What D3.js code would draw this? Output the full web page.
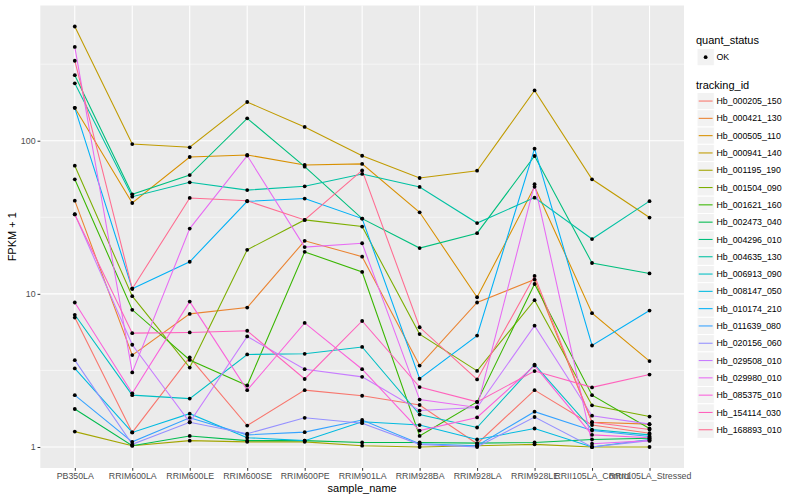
<!DOCTYPE html>
<html><head><meta charset="utf-8">
<script src="https://cdn.jsdelivr.net/npm/d3@7"></script>
<style>
body{margin:0;background:#fff;}
svg{display:block;font-family:"Liberation Sans",Arial,Helvetica,sans-serif;}
</style></head>
<body><svg id="c" width="800" height="500"></svg>
<script>
const samples = ["PB350LA","RRIM600LA","RRIM600LE","RRIM600SE","RRIM600PE","RRIM901LA","RRIM928BA","RRIM928LA","RRIM928LE","RRII105LA_Control","RRII105LA_Stressed"];
const trackingIds = ["Hb_000205_150","Hb_000421_130","Hb_000505_110","Hb_000941_140","Hb_001195_190","Hb_001504_090","Hb_001621_160","Hb_002473_040","Hb_004296_010","Hb_004635_130","Hb_006913_090","Hb_008147_050","Hb_010174_210","Hb_011639_080","Hb_020156_060","Hb_029508_010","Hb_029980_010","Hb_085375_010","Hb_154114_030","Hb_168893_010"];
const colors = ["#F8766D","#EA8331","#D89000","#C09B00","#A3A500","#7CAE00","#39B600","#00BB4E","#00BF7D","#00C1A3","#00BFC4","#00BAE0","#00B0F6","#35A2FF","#9590FF","#C77CFF","#E76BF3","#FA62DB","#FF62BC","#FF6C91"];
const yTicks = [1, 10, 100];
const quantStatus = ["OK"];

// FPKM + 1 per tracking id, one value per sample
const hb_000205_150 = [7.0, 1.245, 3.85, 1.38, 2.35, 2.16, 1.88, 1.05, 2.35, 1.39, 1.23];
const hb_000421_130 = [40.6, 3.98, 7.4, 8.14, 22.2, 17.5, 3.4, 8.78, 12.4, 1.45, 1.41];
const hb_000505_110 = [164, 39.2, 78.3, 80.7, 69.5, 70.6, 34.1, 9.5, 50, 7.48, 3.64];
const hb_000941_140 = [557, 95.1, 90.6, 179, 123, 79.8, 57.1, 63.7, 213, 56, 31.5];
const hb_001195_190 = [1.26, 1.02, 1.1, 1.08, 1.08, 1.02, 1.0, 1.02, 1.04, 1.0, 1.0];
const hb_001504_090 = [68.7, 9.66, 3.3, 19.4, 30.4, 27.5, 5.46, 3.14, 9.1, 1.87, 1.58];
const hb_001621_160 = [56, 7.87, 3.7, 2.52, 18.8, 13.9, 1.18, 1.97, 11.6, 2.18, 1.32];
const hb_002473_040 = [1.77, 1.02, 1.18, 1.1, 1.1, 1.07, 1.07, 1.06, 1.07, 1.12, 1.14];
const hb_004296_010 = [268, 44.7, 59.7, 140, 67.7, 31, 19.9, 24.9, 79.5, 15.9, 13.6];
const hb_004635_130 = [237, 43.1, 53.5, 47.6, 50.4, 60.7, 49.9, 29, 42.5, 22.8, 40.3];
const hb_006913_090 = [7.3, 2.18, 2.07, 4.02, 4.06, 4.5, 1.63, 1.34, 3.45, 1.3, 1.2];
const hb_008147_050 = [3.26, 1.245, 1.65, 1.15, 1.1, 1.46, 1.39, 1.12, 1.32, 1.0, 1.12];
const hb_010174_210 = [164, 10.8, 16.2, 40.2, 41.9, 31, 2.79, 5.34, 88.7, 4.6, 7.78];
const hb_011639_080 = [2.18, 1.08, 1.55, 1.2, 1.25, 1.5, 1.05, 1.02, 1.7, 1.28, 1.17];
const hb_020156_060 = [3.69, 1.04, 1.45, 1.22, 1.55, 1.43, 1.04, 1.0, 1.57, 1.0, 1.1];
const hb_029508_010 = [33.1, 4.65, 1.45, 5.27, 3.22, 2.87, 1.73, 1.81, 6.2, 1.6, 1.41];
const hb_029980_010 = [410, 3.07, 26.7, 80, 20.2, 21.4, 2.04, 1.81, 52, 1.05, 1.1];
const hb_085375_010 = [8.78, 2.24, 8.9, 2.35, 6.46, 3.22, 1.28, 1.56, 3.4, 1.2, 1.15];
const hb_154114_030 = [33, 5.54, 5.6, 5.74, 2.78, 6.65, 2.46, 1.97, 3.13, 2.45, 2.97];
const hb_168893_010 = [333, 10.8, 42.3, 40.5, 30.4, 64, 6.05, 2.76, 13.1, 1.45, 1.3];

const seriesValues = [hb_000205_150,hb_000421_130,hb_000505_110,hb_000941_140,hb_001195_190,hb_001504_090,hb_001621_160,hb_002473_040,hb_004296_010,hb_004635_130,hb_006913_090,hb_008147_050,hb_010174_210,hb_011639_080,hb_020156_060,hb_029508_010,hb_029980_010,hb_085375_010,hb_154114_030,hb_168893_010];

const series = trackingIds.map((id, i) => ({id, color: colors[i], values: samples.map((s, j) => ({sample: s, v: seriesValues[i][j]}))}));

const svg = d3.select("#c");
const P = {l: 40.3, r: 684, t: 5.5, b: 468};

const x = d3.scalePoint().domain(samples).range([P.l, P.r]).padding(0.6);
const allV = seriesValues.flat();
const lo = Math.log10(d3.min(allV)), hi = Math.log10(d3.max(allV));
const ex = (hi - lo) * 0.05;
const y = d3.scaleLog().domain([Math.pow(10, lo - ex), Math.pow(10, hi + ex)]).range([P.b, P.t]);

// panel
svg.append("rect").attr("x", P.l).attr("y", P.t).attr("width", P.r - P.l).attr("height", P.b - P.t).attr("fill", "#EBEBEB");
const minor = [Math.pow(10, 0.5), Math.pow(10, 1.5), Math.pow(10, 2.5)];
svg.append("g").selectAll("line").data(minor).join("line")
  .attr("x1", P.l).attr("x2", P.r).attr("y1", d => y(d)).attr("y2", d => y(d))
  .attr("stroke", "#fff").attr("stroke-width", 0.55);
svg.append("g").selectAll("line").data(yTicks).join("line")
  .attr("x1", P.l).attr("x2", P.r).attr("y1", d => y(d)).attr("y2", d => y(d))
  .attr("stroke", "#fff").attr("stroke-width", 1.1);
svg.append("g").selectAll("line").data(samples).join("line")
  .attr("y1", P.t).attr("y2", P.b).attr("x1", d => x(d)).attr("x2", d => x(d))
  .attr("stroke", "#fff").attr("stroke-width", 1.1);

// axes
const yAxis = d3.axisLeft(y).tickValues(yTicks).tickFormat(d3.format("d")).tickSize(2.75).tickPadding(2);
const gy = svg.append("g").attr("transform", `translate(${P.l},0)`).call(yAxis);
gy.select(".domain").remove();
gy.selectAll("line").attr("stroke", "#333333");
gy.selectAll("text").attr("fill", "#4D4D4D").style("font-size", "8.8px");

const xAxis = d3.axisBottom(x).tickSize(2.75).tickPadding(2.2);
const gx = svg.append("g").attr("transform", `translate(0,${P.b})`).call(xAxis);
gx.select(".domain").remove();
gx.selectAll("line").attr("stroke", "#333333");
gx.selectAll("text").attr("fill", "#4D4D4D").style("font-size", "8.8px");

// lines
const line = d3.line().x(d => x(d.sample)).y(d => y(d.v));
svg.append("g").selectAll("path").data(series).join("path")
  .attr("d", d => line(d.values)).attr("fill", "none")
  .attr("stroke", d => d.color).attr("stroke-width", 1.07);

// points
svg.append("g").selectAll("circle").data(series.flatMap(s => s.values)).join("circle")
  .attr("cx", d => x(d.sample)).attr("cy", d => y(d.v)).attr("r", 1.9).attr("fill", "#000");

// axis titles
svg.append("text").attr("x", (P.l + P.r) / 2).attr("y", 492).attr("text-anchor", "middle")
  .style("font-size", "11px").attr("fill", "#000").text("sample_name");
svg.append("text").attr("transform", `translate(16,${(P.t + P.b) / 2}) rotate(-90)`).attr("text-anchor", "middle")
  .style("font-size", "11px").attr("fill", "#000").text("FPKM + 1");

// legend
const L = svg.append("g");
const lx = 696, keyX = 697, keyW = 17.3, keyH = 17.3;
L.append("text").attr("x", lx).attr("y", 44).style("font-size", "11px").text("quant_status");
quantStatus.forEach((q, i) => {
  const ky = 48.5 + i * keyH;
  L.append("rect").attr("x", keyX).attr("y", ky).attr("width", keyW).attr("height", keyH).attr("fill", "#F2F2F2").attr("stroke", "#fff");
  L.append("circle").attr("cx", keyX + keyW / 2).attr("cy", ky + keyH / 2).attr("r", 1.9).attr("fill", "#000");
  L.append("text").attr("x", 716.5).attr("y", ky + keyH / 2 + 3.1).style("font-size", "8.8px").text(q);
});
L.append("text").attr("x", lx).attr("y", 89).style("font-size", "11px").text("tracking_id");
trackingIds.forEach((id, i) => {
  const ky = 92.4 + i * keyH;
  L.append("rect").attr("x", keyX).attr("y", ky).attr("width", keyW).attr("height", keyH).attr("fill", "#F2F2F2").attr("stroke", "#fff");
  L.append("line").attr("x1", keyX + 1.7).attr("x2", keyX + keyW - 1.7).attr("y1", ky + keyH / 2).attr("y2", ky + keyH / 2)
    .attr("stroke", colors[i]).attr("stroke-width", 1.07);
  L.append("text").attr("x", 716.5).attr("y", ky + keyH / 2 + 3.1).style("font-size", "8.8px").text(id);
});
</script></body></html>
